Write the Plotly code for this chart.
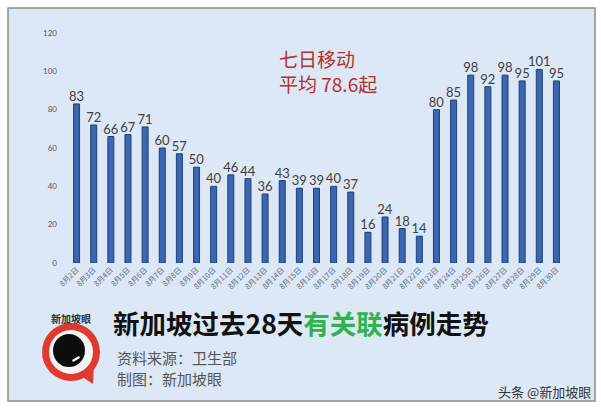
import plotly.graph_objects as go

dates = [f"8月{d}日" for d in range(2, 31)]
cases = [83, 72, 66, 67, 71, 60, 57, 50, 40, 46, 44, 36, 43, 39, 39, 40, 37,
         16, 24, 18, 14, 80, 85, 98, 92, 98, 95, 101, 95]
yticks = [0, 20, 40, 60, 80, 100, 120]

W, H = 601, 411
L, R, T, B = 68, 36, 33, 148
PW, PH = W - L - R, H - T - B

def px(x):
    return (x - L) / PW

def py(y):
    return (H - B - y) / PH

CJK = "Noto Sans CJK SC"

fig = go.Figure(go.Bar(
    x=dates, y=cases, text=[str(v) for v in cases], textposition="outside",
    constraintext="none",
    textfont=dict(family="Lato, Liberation Sans", size=13, color="#404040"),
    marker=dict(color="#3c66b0", line=dict(color="#1f3f7a", width=1)),
    cliponaxis=False,
))

shapes = [
    dict(type="rect", xref="paper", yref="paper", x0=px(8), x1=px(595), y0=py(8), y1=py(401),
         fillcolor="#dce8f5", line=dict(color="#8c8c8c", width=1.5), layer="below"),
    # logo
    dict(type="path", xref="paper", yref="paper",
         path=f"M {px(78)},{py(374)} L {px(93)},{py(384)} L {px(94)},{py(362)} Z",
         fillcolor="#e03a2f", line=dict(width=0)),
    dict(type="circle", xref="paper", yref="paper", x0=px(42), x1=px(100), y0=py(323), y1=py(381),
         fillcolor="#e03a2f", line=dict(width=0)),
    dict(type="circle", xref="paper", yref="paper", x0=px(49), x1=px(93), y0=py(330), y1=py(374),
         fillcolor="#f4f4f4", line=dict(width=0)),
    dict(type="circle", xref="paper", yref="paper", x0=px(53), x1=px(85), y0=py(334), y1=py(367),
         fillcolor="#0d0d0d", line=dict(width=0)),
    dict(type="path", xref="paper", yref="paper",
         path=f"M {px(72)},{py(360)} L {px(79)},{py(356)} L {px(80)},{py(358)} L {px(73)},{py(362)} Z",
         fillcolor="#ffffff", line=dict(width=0)),
]

annotations = [
    dict(text="七日移动<br>平均 78.6起", xref="paper", yref="paper", x=px(277), y=py(43),
         xanchor="left", yanchor="top", showarrow=False, align="left",
         font=dict(family=CJK, size=19, color="#b5302c")),
    dict(text="<b>新加坡过去28天<span style='color:#2fb34c'>有关联</span>病例走势</b>",
         xref="paper", yref="paper", x=px(111), y=py(322), xanchor="left", yanchor="middle",
         showarrow=False, font=dict(family=CJK, size=26.5, color="#111111")),
    dict(text="资料来源：卫生部", xref="paper", yref="paper", x=px(115), y=py(357),
         xanchor="left", yanchor="middle", showarrow=False,
         font=dict(family=CJK, size=15, color="#555555")),
    dict(text="制图：新加坡眼", xref="paper", yref="paper", x=px(115), y=py(378),
         xanchor="left", yanchor="middle", showarrow=False,
         font=dict(family=CJK, size=15, color="#555555")),
    dict(text="<b>新加坡眼</b>", xref="paper", yref="paper", x=px(71), y=py(318),
         xanchor="center", yanchor="middle", showarrow=False,
         font=dict(family=CJK, size=10, color="#333333")),
    dict(text="头条 @新加坡眼", xref="paper", yref="paper", x=px(593), y=py(391),
         xanchor="right", yanchor="middle", showarrow=False,
         font=dict(family=CJK, size=13, color="#333333")),
]

fig.update_layout(
    width=W, height=H, margin=dict(l=L, r=R, t=T, b=B),
    paper_bgcolor="#ffffff", plot_bgcolor="rgba(0,0,0,0)",
    bargap=0.65, showlegend=False,
    shapes=shapes, annotations=annotations,
    xaxis=dict(tickangle=-45, tickfont=dict(family=CJK, size=7.5, color="#5b6b82"),
               showline=False, showgrid=False, ticks="", range=[-0.5, len(dates) - 0.5]),
    yaxis=dict(range=[0, 120], tickvals=yticks, showgrid=False, zeroline=False,
               tickfont=dict(family="Lato, Liberation Sans", size=8, color="#555555"),
               ticklabelstandoff=10),
)

fig.write_html("out.html")
